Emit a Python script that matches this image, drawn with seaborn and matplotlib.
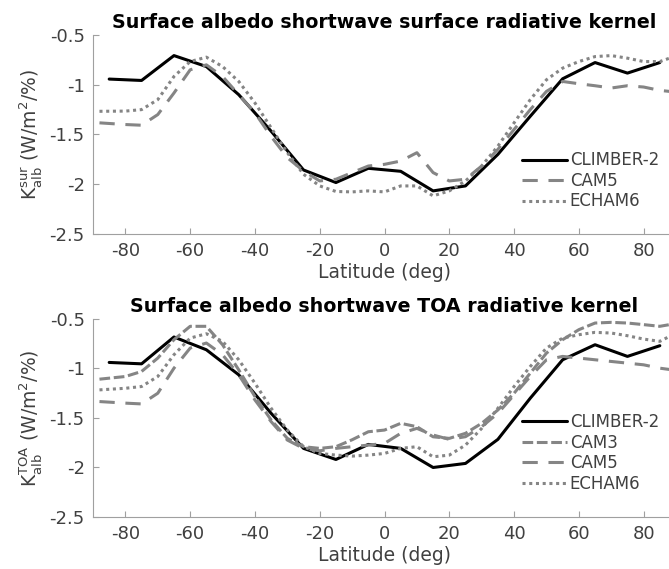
import numpy as np
import pandas as pd
import matplotlib
matplotlib.use("Agg")
import matplotlib.pyplot as plt
import seaborn as sns

# CLIMBER-2 (10 deg zonal bands)
lat_climber = [-85, -75, -65, -55, -45, -35, -25, -15, -5, 5, 15, 25, 35, 45, 55, 65, 75, 85]
climber_sur = [-0.943, -0.957, -0.707, -0.817, -1.10, -1.467, -1.857, -1.983, -1.84, -1.87,
               -2.067, -2.017, -1.70, -1.317, -0.94, -0.777, -0.883, -0.777]
climber_toa = [-0.939, -0.953, -0.682, -0.811, -1.064, -1.453, -1.807, -1.919, -1.767, -1.807,
               -2.0, -1.959, -1.716, -1.30, -0.912, -0.76, -0.878, -0.77]

# GCM kernels (zonal means, read every 5 deg)
lat_gcm = [-88, -80, -75, -70, -65, -60, -55, -50, -45, -40, -35, -30, -25, -20, -15, -10, -5,
           0, 5, 10, 15, 20, 25, 30, 35, 40, 45, 50, 55, 60, 65, 70, 75, 80, 85, 88]

cam5_sur = [-1.383, -1.40, -1.407, -1.30, -1.083, -0.85, -0.80, -0.917, -1.10, -1.283, -1.52,
            -1.733, -1.867, -1.967, -1.95, -1.883, -1.817, -1.80, -1.767, -1.683, -1.883,
            -1.967, -1.95, -1.817, -1.65, -1.45, -1.25, -1.067, -0.967, -0.99, -1.01, -1.033,
            -1.01, -1.023, -1.057, -1.067]
echam6_sur = [-1.267, -1.265, -1.25, -1.15, -0.917, -0.767, -0.723, -0.817, -0.967, -1.183,
              -1.433, -1.683, -1.90, -2.017, -2.073, -2.077, -2.067, -2.077, -2.017, -2.017,
              -2.117, -2.067, -1.967, -1.817, -1.617, -1.383, -1.15, -0.95, -0.833, -0.767,
              -0.717, -0.707, -0.733, -0.767, -0.767, -0.733]

cam3_toa = [-1.108, -1.081, -1.03, -0.895, -0.709, -0.574, -0.574, -0.76, -1.014, -1.284, -1.52,
            -1.706, -1.79, -1.807, -1.79, -1.72, -1.639, -1.622, -1.554, -1.588, -1.69, -1.706,
            -1.655, -1.554, -1.419, -1.25, -1.047, -0.845, -0.709, -0.608, -0.541, -0.534,
            -0.541, -0.557, -0.574, -0.557]
cam5_toa = [-1.334, -1.35, -1.358, -1.25, -0.997, -0.794, -0.743, -0.861, -1.064, -1.318, -1.537,
            -1.723, -1.807, -1.831, -1.807, -1.79, -1.774, -1.757, -1.655, -1.605, -1.672,
            -1.716, -1.689, -1.588, -1.453, -1.267, -1.081, -0.912, -0.878, -0.895, -0.912,
            -0.929, -0.946, -0.963, -0.997, -1.01]
echam6_toa = [-1.216, -1.20, -1.182, -1.081, -0.861, -0.693, -0.649, -0.726, -0.912, -1.149,
              -1.402, -1.622, -1.79, -1.858, -1.875, -1.885, -1.875, -1.858, -1.807, -1.79,
              -1.892, -1.875, -1.774, -1.605, -1.402, -1.182, -0.98, -0.794, -0.693, -0.659,
              -0.635, -0.642, -0.669, -0.703, -0.726, -0.676]

sns.set_style("ticks")
plt.rcParams['font.family'] = ['DejaVu Sans']

grey = "#858585"
txt = "#404040"
styles = {
    "CLIMBER-2": dict(color="black", linestyle="-"),
    "CAM3": dict(color=grey, linestyle=(0, (3.5, 1.2))),
    "CAM5": dict(color=grey, linestyle=(0, (5, 3.5))),
    "ECHAM6": dict(color=grey, linestyle=(0, (1, 1.2))),
}

fig = plt.figure(figsize=(6.69, 5.69), dpi=100)
ax1 = fig.add_axes([0.139, 0.5888, 0.8715, 0.3497])
ax2 = fig.add_axes([0.139, 0.0914, 0.8715, 0.348])

panels = [
    (ax1, "Surface albedo shortwave surface radiative kernel", "sur",
     [("CLIMBER-2", lat_climber, climber_sur), ("CAM5", lat_gcm, cam5_sur),
      ("ECHAM6", lat_gcm, echam6_sur)], (0.725, 0.085)),
    (ax2, "Surface albedo shortwave TOA radiative kernel", "TOA",
     [("CLIMBER-2", lat_climber, climber_toa), ("CAM3", lat_gcm, cam3_toa),
      ("CAM5", lat_gcm, cam5_toa), ("ECHAM6", lat_gcm, echam6_toa)], (0.725, 0.09)),
]

for ax, title, sup, series, legpos in panels:
    for name, lat, vals in series:
        df = pd.DataFrame({"lat": lat, "k": vals})
        sns.lineplot(data=df, x="lat", y="k", ax=ax, label=name, linewidth=2.2,
                     **styles[name])
    ax.set_xlim(-90, 90)
    ax.set_ylim(-2.5, -0.5)
    ax.set_xticks(np.arange(-80, 81, 20))
    ax.set_yticks([-2.5, -2, -1.5, -1, -0.5])
    ax.set_yticklabels(["-2.5", "-2", "-1.5", "-1", "-0.5"])
    ax.set_xticklabels([str(v) for v in range(-80, 81, 20)])
    ax.tick_params(direction="in", length=4, labelsize=13, colors="#a0a0a0",
                   labelcolor=txt, pad=6)
    for s in ["top", "right"]:
        ax.spines[s].set_visible(False)
    for s in ["left", "bottom"]:
        ax.spines[s].set_color("#a0a0a0")
    ax.set_xlabel("Latitude (deg)", fontsize=13.5, color=txt, labelpad=2)
    ax.set_ylabel(r"K$_{\mathrm{alb}}^{\mathrm{%s}}$ (W/m$^2$/%%)" % sup, fontsize=13.5,
                  color=txt, labelpad=4)
    ax.set_title(title, fontsize=13.7, fontweight="bold", color="black", pad=5, x=0.5)
    leg = ax.legend(loc="lower left", bbox_to_anchor=legpos, frameon=False, fontsize=12,
                    handlelength=2.7, handletextpad=0.15, labelspacing=0.15,
                    borderaxespad=0)
    for t in leg.get_texts():
        t.set_color(txt)

fig.savefig("out.png", dpi=100)
